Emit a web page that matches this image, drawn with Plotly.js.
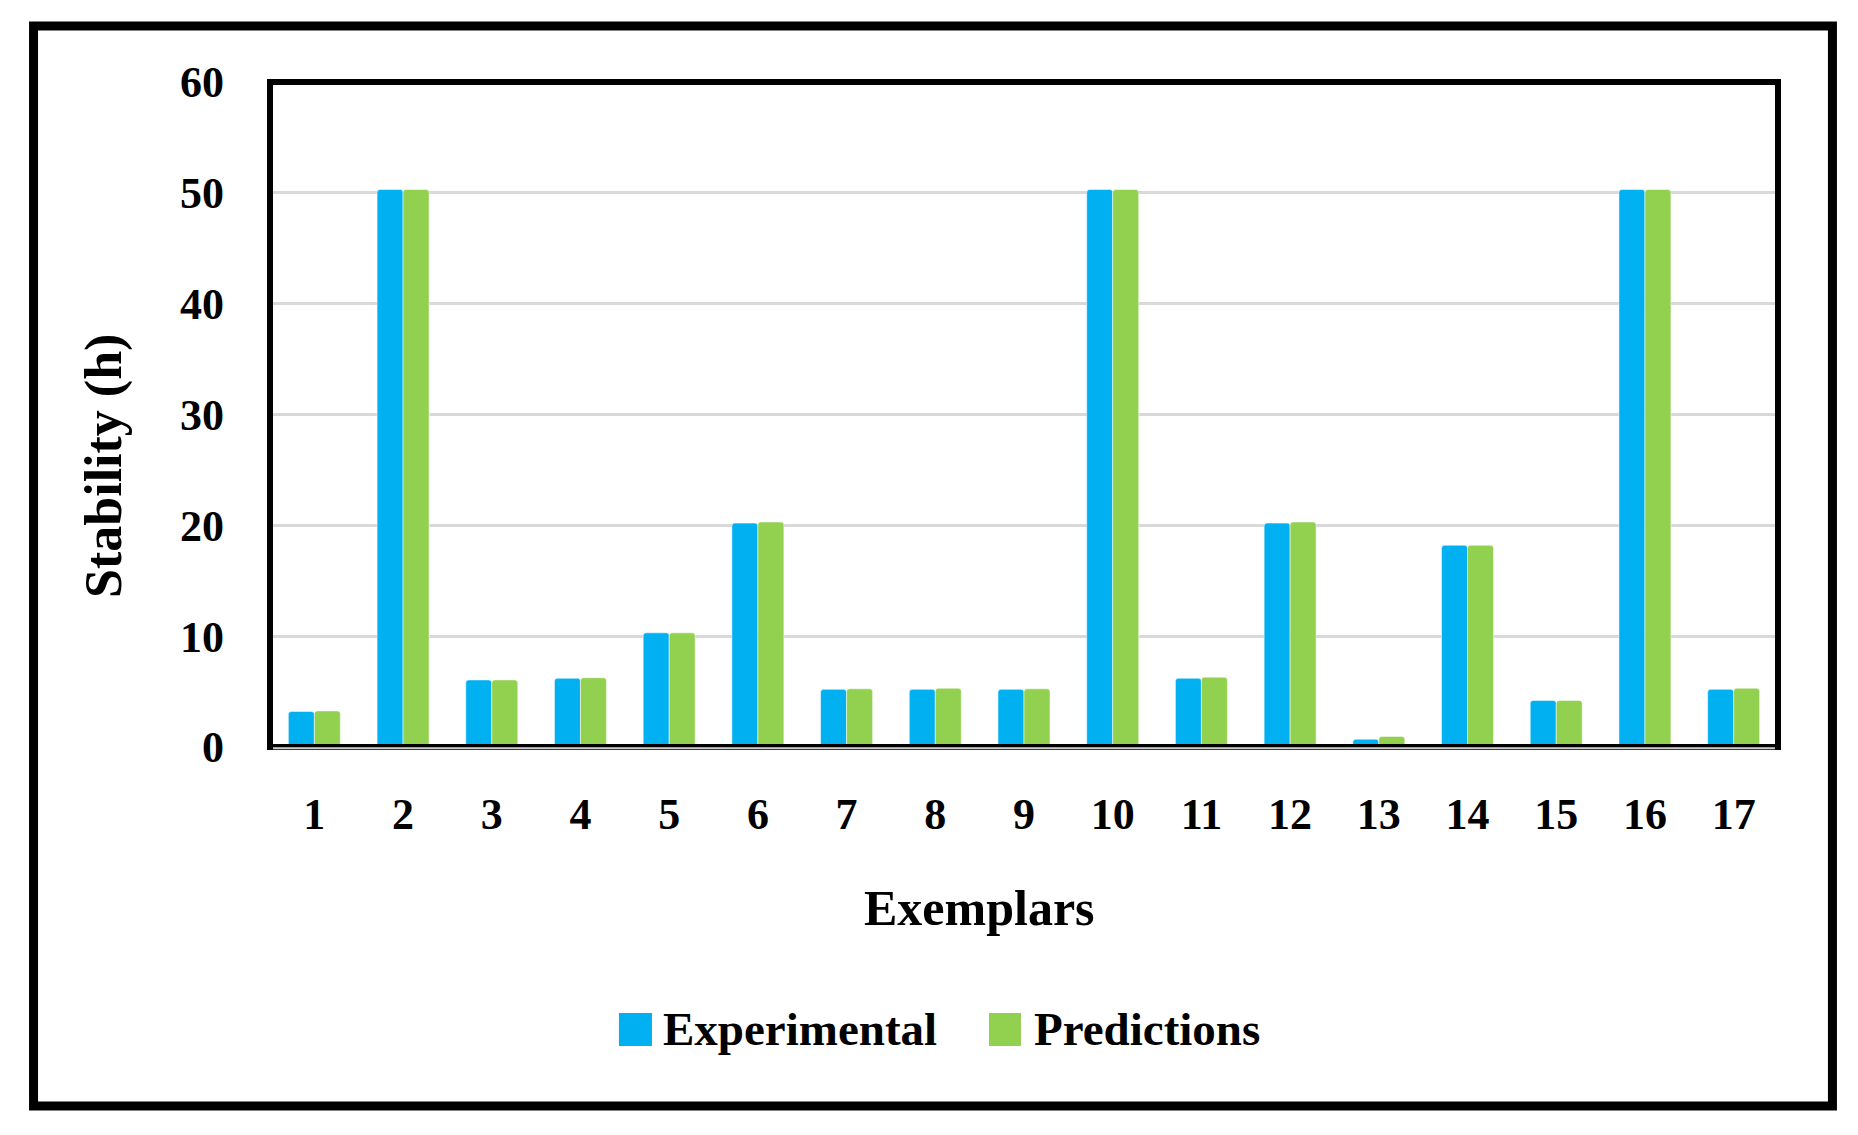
<!DOCTYPE html>
<html>
<head>
<meta charset="utf-8">
<script src="https://cdn.plot.ly/plotly-3.0.1.min.js"></script>
<style>
  html, body { margin: 0; padding: 0; background: #fff; }
  #chart { width: 1858px; height: 1135px; }
</style>
</head>
<body>
<div id="chart"></div>
<script>
// ---- data ----
const exemplars = ['1','2','3','4','5','6','7','8','9','10','11','12','13','14','15','16','17'];
const experimental = [3.2, 50.3, 6.05, 6.2, 10.3, 20.2, 5.2, 5.2, 5.2, 50.3, 6.2, 20.2, 0.7, 18.2, 4.2, 50.3, 5.2];
const predictions  = [3.25, 50.3, 6.05, 6.25, 10.3, 20.3, 5.25, 5.3, 5.25, 50.3, 6.3, 20.3, 0.95, 18.2, 4.2, 50.3, 5.3];
const yTicks = [0, 10, 20, 30, 40, 50, 60];
const seriesNames = ['Experimental', 'Predictions'];

const FONT = 'Liberation Serif, Times New Roman, serif';
const BLUE = '#00B0F0';
const GREEN = '#92D050';

const traces = [
  {
    type: 'bar', name: seriesNames[0], x: exemplars, y: experimental,
    marker: { color: BLUE, line: { color: 'rgba(255,255,255,0.5)', width: 1 }, cornerradius: 3 },
    showlegend: false, hoverinfo: 'x+y+name'
  },
  {
    type: 'bar', name: seriesNames[1], x: exemplars, y: predictions,
    marker: { color: GREEN, line: { color: 'rgba(255,255,255,0.5)', width: 1 }, cornerradius: 3 },
    showlegend: false, hoverinfo: 'x+y+name'
  }
];

const layout = {
  width: 1858, height: 1135,
  margin: { l: 270, r: 80, t: 82, b: 388 },
  paper_bgcolor: '#fff', plot_bgcolor: '#fff',
  barmode: 'group', bargap: 0.414, bargroupgap: 0,
  showlegend: false,
  font: { family: FONT, color: '#000' },
  xaxis: {
    type: 'category',
    showgrid: false, zeroline: false, showline: false,
    ticks: '', ticklabelstandoff: 37,
    tickfont: { family: FONT, size: 44, color: '#000', weight: 'bold' }
  },
  yaxis: {
    range: [0, 60], tickvals: yTicks, ticktext: yTicks.map(String),
    showgrid: true, gridcolor: '#d9d9d9', gridwidth: 3,
    zeroline: false, showline: false,
    ticks: '', ticklabelstandoff: 45,
    tickfont: { family: FONT, size: 44, color: '#000', weight: 'bold' }
  },
  shapes: [
    // plot frame
    { type: 'rect', xref: 'paper', yref: 'paper', x0: 0, x1: 1, y0: 0, y1: 1,
      line: { color: '#000', width: 6 }, layer: 'above' },
    // light zero line inside frame bottom
    { type: 'line', xref: 'paper', yref: 'paper', x0: 0.002, x1: 0.998, y0: -0.002, y1: -0.002,
      line: { color: '#d0d0d0', width: 2 }, layer: 'above' },
    // outer border
    { type: 'rect', xref: 'paper', yref: 'paper', x0: -0.1568, x1: 1.0361, y0: -0.5398, y1: 1.0842,
      line: { color: '#000', width: 9 }, layer: 'above' },
    // legend swatches
    { type: 'rect', xref: 'paper', yref: 'paper', x0: 0.2314, x1: 0.2533, y0: -0.4496, y1: -0.4,
      fillcolor: BLUE, line: { width: 0 } },
    { type: 'rect', xref: 'paper', yref: 'paper', x0: 0.4768, x1: 0.4980, y0: -0.4496, y1: -0.4,
      fillcolor: GREEN, line: { width: 0 } }
  ],
  annotations: [
    { text: 'Exemplars', xref: 'paper', yref: 'paper', x: 0.4702, y: -0.2421,
      xanchor: 'center', yanchor: 'middle', showarrow: false,
      font: { family: FONT, size: 50, color: '#000', weight: 'bold' } },
    { text: 'Stability (h)', xref: 'paper', yref: 'paper', x: -0.1101, y: 0.4226,
      xanchor: 'center', yanchor: 'middle', showarrow: false, textangle: -90,
      font: { family: FONT, size: 52, color: '#000', weight: 'bold' } },
    { text: seriesNames[0], xref: 'paper', yref: 'paper', x: 0.2593, y: -0.4241,
      xanchor: 'left', yanchor: 'middle', showarrow: false,
      font: { family: FONT, size: 47, color: '#000', weight: 'bold' } },
    { text: seriesNames[1], xref: 'paper', yref: 'paper', x: 0.5053, y: -0.4241,
      xanchor: 'left', yanchor: 'middle', showarrow: false,
      font: { family: FONT, size: 47, color: '#000', weight: 'bold' } }
  ]
};

Plotly.newPlot('chart', traces, layout, { displayModeBar: false, responsive: false });
</script>
</body>
</html>
